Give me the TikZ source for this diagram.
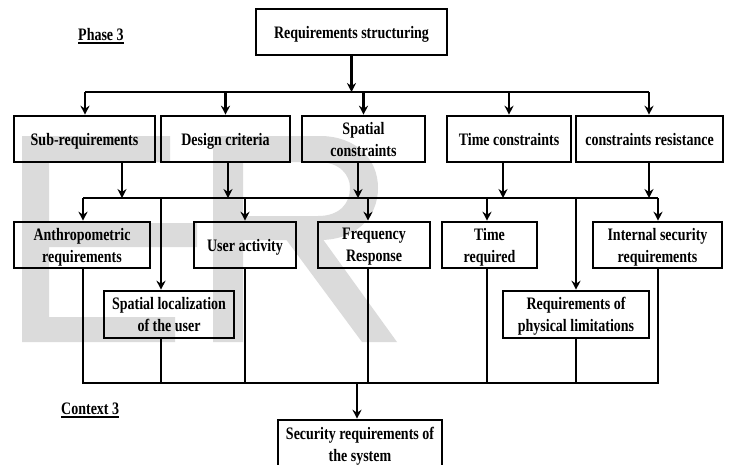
\documentclass[tikz,border=0pt]{standalone}
\usepackage{fontspec}
\setmainfont{Liberation Serif}[FakeStretch=0.8]
\usetikzlibrary{arrows.meta}
\definecolor{wmgray}{gray}{0.86}
\tikzset{
  box/.style={draw, line width=2.6pt, inner sep=0pt, align=center, text depth=0pt,
    font=\bfseries\fontsize{17.5}{22}\selectfont},
  link/.style={line width=2.1pt},
  arr/.style={link, -{Stealth[length=9pt,width=9pt,inset=3pt]}},
  lbl/.style={inner sep=0pt, anchor=base west, font=\bfseries\fontsize{17.5}{22}\selectfont},
  uline/.style={line width=1.5pt},
}
\begin{document}
\begin{tikzpicture}[x=1pt,y=-1pt]
\useasboundingbox (0,0) rectangle (730,464);

% background lettering
\fill[wmgray] (22,136) -- (170,136) -- (170,162) -- (49,162) -- (49,223) -- (197,223)
  -- (197,247) -- (49,247) -- (49,317) -- (175,317) -- (175,342) -- (22,342) -- cycle;
\fill[wmgray, even odd rule]
  (213,136) -- (320,136) .. controls (355,136) and (378,158) .. (378,188)
  .. controls (378,218) and (355,240) .. (320,240) -- (243,240) -- (243,342) -- (213,342) -- cycle
  (243,162) -- (318,162) .. controls (340,162) and (350,175) .. (350,188)
  .. controls (350,203) and (340,216) .. (318,216) -- (243,216) -- cycle;
\fill[wmgray] (285,238) -- (322,238) -- (397,342) -- (362,342) -- cycle;

% boxes
\node[box, minimum width=191pt, minimum height=46pt] (top) at (351.5,32) {Requirements structuring};

\node[box, minimum width=141pt, minimum height=46pt] (sub) at (84.5,139) {Sub-requirements};
\node[box, minimum width=129pt, minimum height=46pt] (design) at (225.5,139) {Design criteria};
\node[box, minimum width=123pt, minimum height=46pt] (spatial) at (363.5,139) {Spatial\\constraints};
\node[box, minimum width=124pt, minimum height=46pt] (timec) at (509,139) {Time constraints};
\node[box, minimum width=147pt, minimum height=46pt] (resist) at (649.5,139) {constraints resistance};

\node[box, minimum width=136pt, minimum height=46pt] (anthro) at (82,245) {Anthropometric\\requirements};
\node[box, minimum width=102pt, minimum height=46pt] (user) at (245,245) {User activity};
\node[box, minimum width=112pt, minimum height=46pt] (freq) at (374,245) {Frequency\\Response};
\node[box, minimum width=95pt, minimum height=46pt] (timer) at (489.5,245) {Time\\required};
\node[box, minimum width=129pt, minimum height=46pt] (internal) at (657.5,245) {Internal security\\requirements};

\node[box, minimum width=130pt, minimum height=47pt] (spatloc) at (169,314.5) {Spatial localization\\of the user};
\node[box, minimum width=146pt, minimum height=47pt] (phys) at (576,314.5) {Requirements of\\physical limitations};

\node[box, minimum width=164pt, minimum height=48pt] (final) at (360,444) {Security requirements of\\the system};

% labels
\node[lbl] (ph) at (78,40) {Phase 3};
\draw[uline] ([yshift=-3pt]ph.base west) -- ([yshift=-3pt]ph.base east);
\node[lbl] (ctx) at (61,414) {Context 3};
\draw[uline] ([yshift=-3pt]ctx.base west) -- ([yshift=-3pt]ctx.base east);

% first distribution bus
\coordinate (j0) at (351.5,92);
\coordinate (j0w) at (85,92);
\coordinate (j0e) at (649,92);
\draw[arr] (top.south) -- (j0);
\draw[link] (j0w) -- (j0e);
\draw[arr] (j0w) -- (sub.north -| j0w);
\draw[arr] (design.north |- j0) -- (design.north);
\draw[arr] (spatial.north |- j0) -- (spatial.north);
\draw[arr] (timec.north |- j0) -- (timec.north);
\draw[arr] (j0e) -- (resist.north -| j0e);

% second distribution bus
\coordinate (k0w) at (83,198);
\coordinate (k0e) at (658,198);
\coordinate (k1) at (122,198);
\coordinate (k2) at (228,198);
\coordinate (k3) at (358,198);
\coordinate (k4) at (503,198);
\coordinate (k5) at (649,198);
\draw[link] (k0w) -- (k0e);
\draw[arr] (sub.south -| k1) -- (k1);
\draw[arr] (design.south -| k2) -- (k2);
\draw[arr] (spatial.south -| k3) -- (k3);
\draw[arr] (timec.south -| k4) -- (k4);
\draw[arr] (resist.south -| k5) -- (k5);

\coordinate (c161) at (161,198);
\coordinate (c368) at (368,198);
\coordinate (c487) at (487,198);
\draw[arr] (k0w) -- (anthro.north -| k0w);
\draw[arr] (c161) -- (spatloc.north -| c161);
\draw[arr] (user.north |- k0w) -- (user.north);
\draw[arr] (c368) -- (freq.north -| c368);
\draw[arr] (c487) -- (timer.north -| c487);
\draw[arr] (phys.north |- k0w) -- (phys.north);
\draw[arr] (k0e) -- (internal.north -| k0e);

% collecting bus
\coordinate (m0w) at (83,383);
\coordinate (m0e) at (658,383);
\coordinate (m1) at (357,383);
\draw[link] (anthro.south -| m0w) -- (m0w) -- (m0e) -- (internal.south -| m0e);
\draw[link] (spatloc.south -| c161) -- (c161 |- m0w);
\draw[link] (user.south) -- (user.south |- m0w);
\draw[link] (freq.south -| c368) -- (c368 |- m0w);
\draw[link] (timer.south -| c487) -- (c487 |- m0w);
\draw[link] (phys.south) -- (phys.south |- m0w);
\draw[arr] (m1) -- (final.north -| m1);
\end{tikzpicture}
\end{document}
